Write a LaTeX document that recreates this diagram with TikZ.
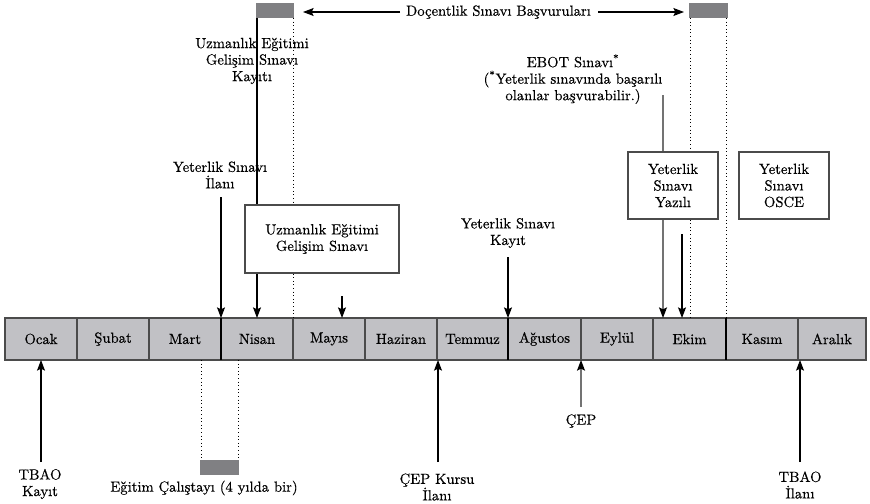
\documentclass[tikz,border=0pt]{standalone}
\usepackage{fontspec}
\setmainfont{Latin Modern Roman}[FakeBold=0.4]
\usetikzlibrary{arrows.meta}
\definecolor{barfill}{RGB}{193,193,197}
\definecolor{blkfill}{RGB}{128,128,131}
\definecolor{edge}{RGB}{75,75,75}
\begin{document}
\begin{tikzpicture}[x=0.75pt,y=-0.75pt,
  font=\fontsize{11}{12.4}\selectfont,
  arr/.style={-{Stealth[length=8pt,width=6pt,inset=1.5pt]}, line width=0.8pt, black},
  grayarr/.style={line width=1pt, draw=black!55, -{Stealth[length=8pt,width=6pt,inset=1.5pt,fill=black,color=black]}},
  dots/.style={dotted, line width=0.7pt, black},
  cell/.style={draw=edge, fill=barfill, line width=1.1pt, inner sep=0pt, outer sep=0pt, minimum height=31.5pt},
  evbox/.style={draw=edge, fill=white, line width=1.1pt, align=center, inner sep=0pt},
  blk/.style={fill=blkfill, inner sep=0pt, outer sep=0pt, minimum width=29pt, minimum height=11.25pt},
  lbl/.style={align=center, inner sep=1pt}]
\useasboundingbox (0,0) rectangle (870,503);

% month bar
\foreach \a/\b/\n/\t in {5/77/m1/Ocak, 77/149/m2/Şubat, 149/221/m3/Mart, 221/293/m4/Nisan,
  293/365/m5/Mayıs, 365/437/m6/Haziran, 437/508/m7/Temmuz, 508/581/m8/Ağustos,
  581/653/m9/Eylül, 653/726/m10/Ekim, 726/798/m11/Kasım, 798/866/m12/Aralık}{
  \pgfmathsetmacro\w{(\b-\a)*0.75}
  \node[cell, minimum width=\w pt] (\n) at ({(\a+\b)/2},339) {\t};
}
\draw[line width=1pt, black] (m4.north west) -- (m4.south west);
\draw[line width=1pt, black] (m8.north west) -- (m8.south west);
\draw[line width=1pt, black] (m11.north west) -- (m11.south west);

% grey blocks
\node[blk] (dL) at (275,10.5) {};
\node[blk] (dR) at (708.5,10.5) {};
\node[blk] (cal) at (219.5,467) {};

% top label
\node[lbl] (doc) at (498.5,12) {Doçentlik Sınavı Başvuruları};
\coordinate (docLs) at (400,12);
\coordinate (docLe) at (303,12);
\coordinate (docRs) at (598,12);
\coordinate (docRe) at (684,12);
\draw[arr] (docLs) -- (docLe);
\draw[arr] (docRs) -- (docRe);

% dotted guides
\coordinate (g1a) at (293,18);  \coordinate (g1b) at (293,318);
\coordinate (g2a) at (690,18);  \coordinate (g2b) at (690,318);
\coordinate (g3a) at (726,18);  \coordinate (g3b) at (726,318);
\coordinate (g4a) at (201,360); \coordinate (g4b) at (201,459);
\coordinate (g5a) at (238,360); \coordinate (g5b) at (238,459);
\draw[dots] (g1a) -- (g1b);
\draw[dots] (g2a) -- (g2b);
\draw[dots] (g3a) -- (g3b);
\draw[dots] (g4a) -- (g4b);
\draw[dots] (g5a) -- (g5b);

% arrows onto the bar from above
\coordinate (uekS) at (257,18);    \coordinate (uekE) at (257,318);
\coordinate (yiS) at (221,197);
\coordinate (mayS) at (342,296);   \coordinate (mayE) at (342,318);
\coordinate (ykS) at (508,257);
\coordinate (ebS) at (663,95);     \coordinate (ebE) at (663,318);
\coordinate (ekS) at (682,234);    \coordinate (ekE) at (682,318);
\draw[arr] (uekS) -- (uekE);
\draw[arr] (yiS) -- (m4.north west);
\draw[arr] (mayS) -- (mayE);
\draw[arr] (ykS) -- (m8.north west);
\draw[grayarr] (ebS) -- (ebE);
\draw[arr] (ekS) -- (ekE);

% arrows onto the bar from below
\coordinate (tkS) at (41,462);   \coordinate (tkE) at (41,360);
\coordinate (ckS) at (438,462);  \coordinate (ckE) at (438,360);
\coordinate (cpS) at (581,407);  \coordinate (cpE) at (581,360);
\coordinate (tiS) at (800,462);  \coordinate (tiE) at (800,360);
\draw[arr] (tkS) -- (tkE);
\draw[arr] (ckS) -- (ckE);
\draw[grayarr] (cpS) -- (cpE);
\draw[arr] (tiS) -- (tiE);

% event boxes
\node[evbox, minimum width=115.5pt, minimum height=51pt] (uegs) at (322,239)
  {Uzmanlık Eğitimi\\Gelişim Sınavı};
\node[evbox, minimum width=67.5pt, minimum height=50.25pt] (yaz) at (673,185.5)
  {Yeterlik\\Sınavı\\Yazılı};
\node[evbox, minimum width=67.5pt, minimum height=50.25pt] (osce) at (784,185.5)
  {Yeterlik\\Sınavı\\OSCE};

% labels
\node[lbl] (uek) at (252,61) {Uzmanlık Eğitimi\\Gelişim Sınavı\\Kayıtı};
\node[lbl] (yi) at (220,175) {Yeterlik Sınavı\\İlanı};
\node[lbl] (yk) at (508,233) {Yeterlik Sınavı\\Kayıt};
\node[lbl] (ebot) at (573,79) {EBOT Sınavı\textsuperscript{*}\\(\textsuperscript{*}Yeterlik sınavında başarılı\\olanlar başvurabilir.)};
\node[lbl] (tk) at (40,484) {TBAO\\Kayıt};
\node[lbl] (calt) at (204,488) {Eğitim Çalıştayı (4 yılda bir)};
\node[lbl] (ck) at (437,487) {ÇEP Kursu\\İlanı};
\node[lbl] (cp) at (581,421) {ÇEP};
\node[lbl] (ti) at (800,485) {TBAO\\İlanı};
\end{tikzpicture}
\end{document}
